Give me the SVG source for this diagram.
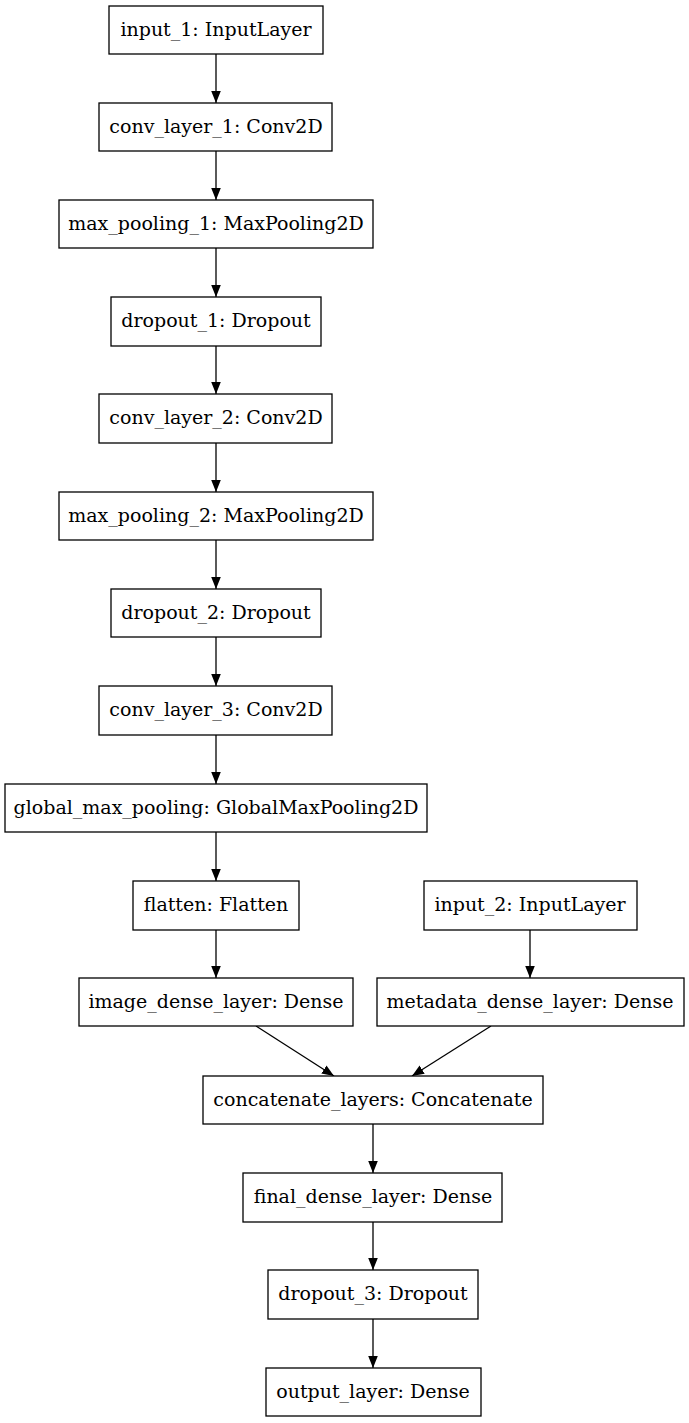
<svg xmlns="http://www.w3.org/2000/svg" width="689" height="1423" viewBox="0 0 689 1423">
<style>
.n rect{fill:#fff;stroke:#000;stroke-width:1.3}
.n text{font-family:"DejaVu Serif","Liberation Serif",serif;font-size:19px;text-anchor:middle;fill:#000}
.e line{stroke:#000;stroke-width:1.3;marker-end:url(#ah)}
</style>
<defs>
<marker id="ah" markerUnits="userSpaceOnUse" markerWidth="12" markerHeight="12" viewBox="0 0 10 8" refX="10" refY="4" orient="auto">
<path d="M0,0 L10,4 L0,8 Z" fill="#000"/>
</marker>
</defs>
<rect width="689" height="1423" fill="#fff"/>
<g id="edges" class="e">
<line x1="216" y1="54" x2="216" y2="103"/>
<line x1="216" y1="151" x2="216" y2="200"/>
<line x1="216" y1="248" x2="216" y2="297"/>
<line x1="216" y1="346" x2="216" y2="394"/>
<line x1="216" y1="443" x2="216" y2="492"/>
<line x1="216" y1="540" x2="216" y2="589"/>
<line x1="216" y1="637" x2="216" y2="686"/>
<line x1="216" y1="735" x2="216" y2="784"/>
<line x1="216" y1="832" x2="216" y2="881"/>
<line x1="216" y1="930" x2="216" y2="978"/>
<line x1="530" y1="930" x2="530" y2="978"/>
<line x1="256" y1="1026" x2="334" y2="1076"/>
<line x1="491" y1="1026" x2="412" y2="1076"/>
<line x1="373" y1="1124" x2="373" y2="1173"/>
<line x1="373" y1="1222" x2="373" y2="1270"/>
<line x1="373" y1="1319" x2="373" y2="1368"/>
</g>
<g id="input_1" class="n"><rect x="109" y="6" width="214" height="48"/><text x="216" y="36">input_1: InputLayer</text></g>
<g id="conv_layer_1" class="n"><rect x="99" y="103" width="233" height="48"/><text x="216" y="133">conv_layer_1: Conv2D</text></g>
<g id="max_pooling_1" class="n"><rect x="59" y="200" width="314" height="48"/><text x="216" y="230">max_pooling_1: MaxPooling2D</text></g>
<g id="dropout_1" class="n"><rect x="111" y="297" width="210" height="49"/><text x="216" y="327">dropout_1: Dropout</text></g>
<g id="conv_layer_2" class="n"><rect x="99" y="394" width="233" height="49"/><text x="216" y="424">conv_layer_2: Conv2D</text></g>
<g id="max_pooling_2" class="n"><rect x="59" y="492" width="314" height="48"/><text x="216" y="522">max_pooling_2: MaxPooling2D</text></g>
<g id="dropout_2" class="n"><rect x="111" y="589" width="210" height="48"/><text x="216" y="619">dropout_2: Dropout</text></g>
<g id="conv_layer_3" class="n"><rect x="99" y="686" width="233" height="49"/><text x="216" y="716">conv_layer_3: Conv2D</text></g>
<g id="global_max_pooling" class="n"><rect x="5" y="784" width="422" height="48"/><text x="216" y="814">global_max_pooling: GlobalMaxPooling2D</text></g>
<g id="flatten" class="n"><rect x="133" y="881" width="166" height="49"/><text x="216" y="911">flatten: Flatten</text></g>
<g id="input_2" class="n"><rect x="424" y="881" width="213" height="49"/><text x="530" y="911">input_2: InputLayer</text></g>
<g id="image_dense_layer" class="n"><rect x="79" y="978" width="274" height="48"/><text x="216" y="1008">image_dense_layer: Dense</text></g>
<g id="metadata_dense_layer" class="n"><rect x="377" y="978" width="307" height="48"/><text x="530" y="1008">metadata_dense_layer: Dense</text></g>
<g id="concatenate_layers" class="n"><rect x="203" y="1076" width="340" height="48"/><text x="373" y="1106">concatenate_layers: Concatenate</text></g>
<g id="final_dense_layer" class="n"><rect x="243" y="1173" width="259" height="49"/><text x="373" y="1203">final_dense_layer: Dense</text></g>
<g id="dropout_3" class="n"><rect x="268" y="1270" width="210" height="49"/><text x="373" y="1300">dropout_3: Dropout</text></g>
<g id="output_layer" class="n"><rect x="266" y="1368" width="215" height="48"/><text x="373" y="1398">output_layer: Dense</text></g>
</svg>
